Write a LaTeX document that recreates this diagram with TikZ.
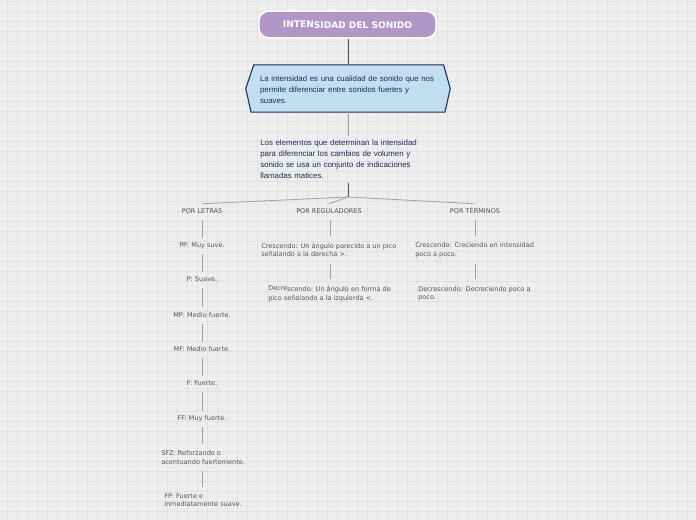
\documentclass[tikz,border=0pt]{standalone}
\usepackage{fontspec}
\setmainfont{DejaVu Sans}
\newfontfamily\arialf{Liberation Sans}
\definecolor{bg}{HTML}{EEEEEE}
\definecolor{gridc}{HTML}{E1E1E1}
\definecolor{titlefill}{HTML}{B197C8}
\definecolor{hexfill}{HTML}{C3DEF1}
\definecolor{navy}{HTML}{1B2A5C}
\definecolor{navytxt}{HTML}{1E2B58}
\definecolor{txtgray}{HTML}{555555}
\definecolor{lineg}{HTML}{A0A0A0}
\definecolor{lined}{HTML}{555555}
\tikzset{
  titlebox/.style={fill=titlefill, draw=white, line width=1.1pt, rounded corners=7.5pt,
    minimum width=133pt, minimum height=20pt, text=white, font=\fontsize{6.8}{8}\selectfont\bfseries, inner sep=0pt},
  hexbox/.style={text width=132pt, inner xsep=7.5pt, minimum height=35pt, align=left,
    text=navytxt, font=\arialf\fontsize{5.9}{8.25}\selectfont},
  bluetxt/.style={text width=130pt, inner xsep=0pt, inner ysep=3pt, align=left,
    text=navytxt, font=\arialf\fontsize{5.9}{8.25}\selectfont},
  gt/.style={text=txtgray, font=\fontsize{4.9}{6.3}\selectfont, inner xsep=0pt, inner ysep=3.6pt,
    text height=3.6pt, text depth=1.1pt, align=left, yshift=-0.75pt},
  gt2/.style={text=txtgray, font=\fontsize{4.9}{6.3}\selectfont, inner xsep=0pt, inner ysep=5pt,
    align=left, yshift=-0.5pt},
  darkline/.style={draw=lined, line width=0.7pt},
  lightline/.style={draw=lineg, line width=0.6pt},
}
\begin{document}
\begin{tikzpicture}[x=0.75pt,y=-0.75pt]
\fill[bg] (0,0) rectangle (696,520);
\useasboundingbox (0,0) rectangle (696,520);
\foreach \i in {0,...,68} {\draw[gridc, line width=0.6pt] (7.5+10*\i,0) -- (7.5+10*\i,520);}
\foreach \i in {0,...,51} {\draw[gridc, line width=0.6pt] (0,1+10*\i) -- (696,1+10*\i);}

% title
\node[titlebox] (title) at (347.5,24.5) {\raisebox{0.8pt}{INTEN}SIDAD DEL SONIDO};

% hexagon box
\node[hexbox] (hex) at (348,88.5) {La intensidad es una cualidad de sonido que nos\\permite diferenciar entre sonidos fuertes y\\suaves.};
\draw[fill=hexfill, draw=navy, line width=0.8pt]
  ([xshift=3pt]hex.north west) -- ([xshift=-3pt]hex.west) -- ([xshift=1pt]hex.south west)
  -- ([xshift=-1pt]hex.south east) -- ([xshift=3pt]hex.east) -- ([xshift=-2pt]hex.north east) -- cycle;
\node[hexbox, yshift=-0.6pt] at (hex) {La intensidad es una cualidad de sonido que nos\\permite diferenciar entre sonidos fuertes y\\suaves.};

% elements text
\node[bluetxt, anchor=west] (elem) at (260,159.3) {Los elementos que determinan la intensidad\\para diferenciar los cambios de volumen y\\sonido se usa un conjunto de indicaciones\\llamadas matices.};

\coordinate (j) at (348,197);

% columns
\node[gt] (l0) at (202,211) {POR LETRAS};
\node[gt] (r0) at (329,211) {POR REGULADORES};
\node[gt] (t0) at (475,211) {POR TÉRMINOS};

\node[gt] (l1) at (202,245) {PP: Muy suve.};
\node[gt] (l2) at (202,279) {P: Suave.};
\node[gt] (l3) at (202,314.5) {MP: Medio fuerte.};
\node[gt] (l4) at (202,349) {MF: Medio fuerte.};
\node[gt] (l5) at (202,383) {F: Fuerte.};
\node[gt] (l6) at (202,418) {FF: Muy fuerte.};
\node[gt2, anchor=west] (l7) at (161,457) {SFZ: Reforzando o\\acentuando fuertemente.};
\node[gt2, anchor=west] (l8) at (164,499.5) {FP: Fuerte e\\inmediatamente suave.};

\node[gt2, anchor=west] (r1) at (261,249.5) {Crescendo: Un ángulo parecido a un pico\\señalando a la derecha >.};
\node[gt2, anchor=west] (r2) at (268,293) {\raisebox{0.8pt}{Decre}scendo: Un ángulo en forma de\\pico señalando a la izquierda <.};

\node[gt2, anchor=west] (t1) at (415,249.5) {Crescendo: Creciendo en intensidad\\poco a poco.};
\node[gt2, anchor=west] (t2) at (418,293) {Decrescendo: Decreciendo poco a\\poco.};

% connectors
\draw[darkline] (title.south -| hex.north) -- (hex.north);
\draw[lightline] (hex.south) -- (hex.south |- elem.north);
\draw[darkline] (hex.south |- elem.south) -- (j);
\draw[lightline] (j) -- (l0.north);
\draw[lightline] (j) -- (r0.north);
\draw[lightline] (j) -- (t0.north);

\draw[lightline] (l0.south) -- (l1.north);
\draw[lightline] (l1.south) -- (l2.north);
\draw[lightline] (l2.south) -- (l3.north);
\draw[lightline] (l3.south) -- (l4.north);
\draw[lightline] (l4.south) -- (l5.north);
\draw[lightline] (l5.south) -- (l6.north);
\draw[lightline] (l6.south) -- (l6.south |- l7.north);
\draw[lightline] (l6.south |- l7.south) -- (l6.south |- l8.north);

\draw[lightline] ([xshift=0.75pt]r0.south) -- ([xshift=0.75pt]r0.south |- r1.north);
\draw[lightline] ([xshift=0.75pt]r0.south |- r1.south) -- ([xshift=0.75pt]r0.south |- r2.north);

\draw[lightline] (t0.south) -- (t0.south |- t1.north);
\draw[lightline] (t0.south |- t1.south) -- (t0.south |- t2.north);
\end{tikzpicture}
\end{document}
